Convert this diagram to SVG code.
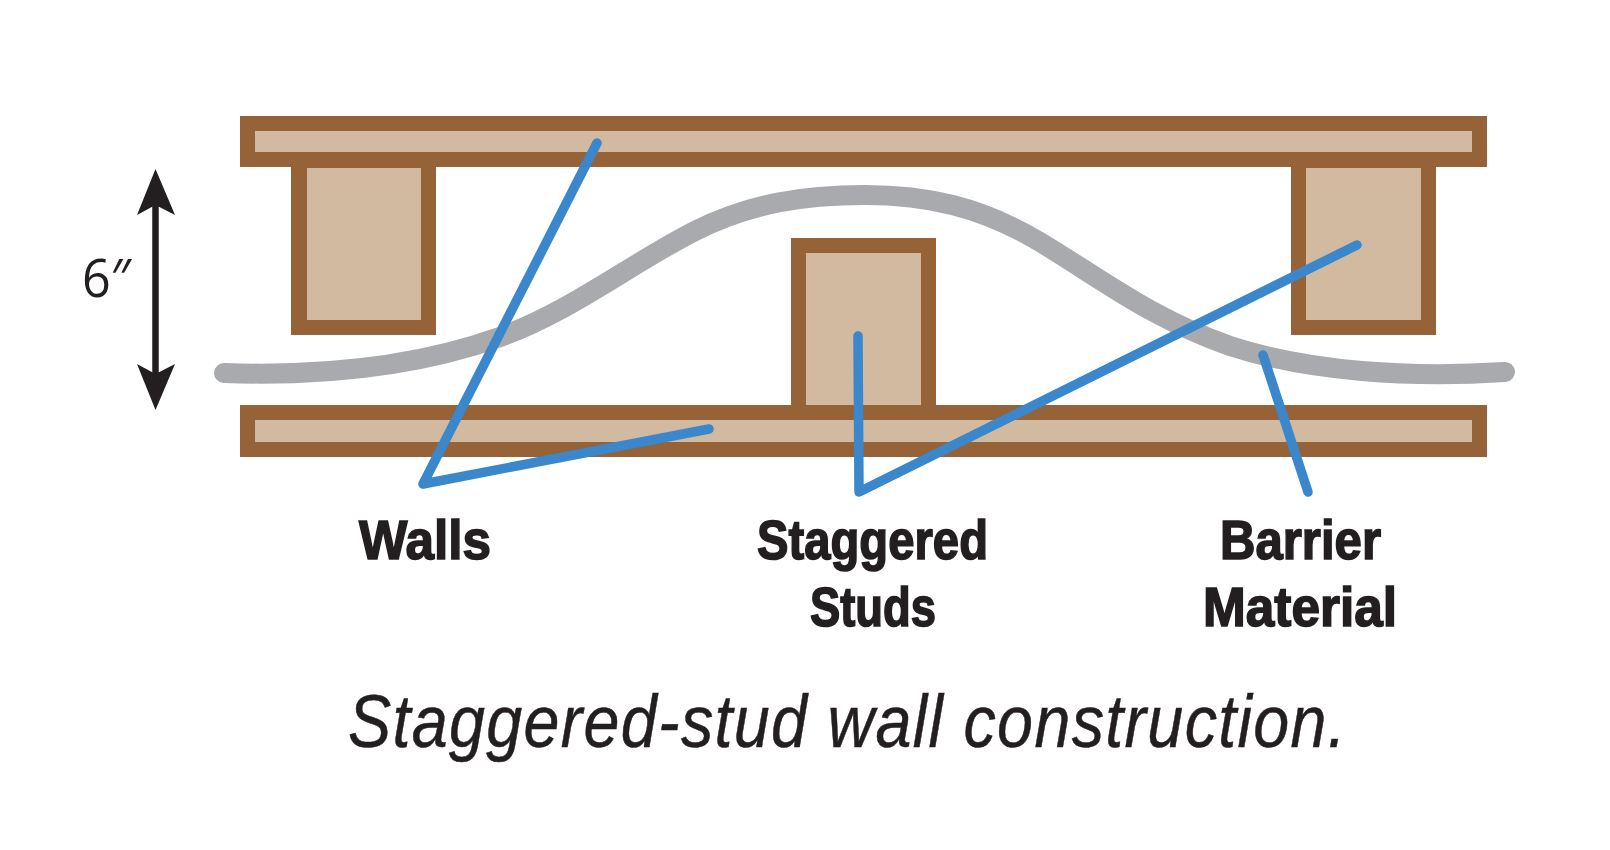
<svg xmlns="http://www.w3.org/2000/svg" width="1610" height="850" viewBox="0 0 1610 850">
<style>
.b{fill:#956337}.t{fill:#d1baa0}
.lead{fill:none;stroke:#3a87cb;stroke-width:9.500;stroke-linecap:round;stroke-linejoin:round}
.lab{font-family:"Liberation Sans",Arial,sans-serif;font-weight:700;font-size:55px;fill:#231f20;stroke:#231f20;stroke-width:1.600}
.cap{font-family:"Liberation Sans",Arial,sans-serif;font-style:italic;font-size:74px;letter-spacing:1.500px;fill:#231f20;stroke:#231f20;stroke-width:.5}
</style>
<rect width="1610" height="850" fill="#fff"/>
<g id="stud-left"><rect class="b" x="291" y="160" width="145" height="175"/><rect class="t" x="307" y="168" width="114" height="152"/></g>
<g id="stud-right"><rect class="b" x="1291" y="160" width="145" height="175"/><rect class="t" x="1306" y="168" width="115" height="152"/></g>
<g id="stud-center"><rect class="b" x="791" y="238" width="145" height="175"/><rect class="t" x="806" y="253" width="115" height="152"/></g>
<g id="plate-top"><rect class="b" x="240" y="116" width="1247" height="51"/><rect class="t" x="255" y="131" width="1217" height="21"/></g>
<g id="plate-bottom"><rect class="b" x="240" y="405" width="1247" height="52"/><rect class="t" x="255" y="420" width="1217" height="22"/></g>
<path id="barrier" d="M224 373C340 377 430 362 500 337C570 312 630 264 695 231C750 203 805 195 865 195C925 195 980 206 1040 242C1100 278 1150 318 1230 346C1310 372 1410 378 1505 372" fill="none" stroke="#a9aaad" stroke-width="20" stroke-linecap="round"/>
<g id="dimension">
<line x1="155.500" y1="200" x2="155.500" y2="380" stroke="#231f20" stroke-width="6.500"/>
<path d="M155.500 169L175 215L155.500 205L137 215Z" fill="#231f20"/>
<path d="M155.500 410L175 364L155.500 374L137 364Z" fill="#231f20"/>
<text x="82" y="297" font-family="Open Sans,sans-serif" font-weight="400" font-size="53" textLength="49" lengthAdjust="spacingAndGlyphs" fill="#231f20">6″</text>
</g>
<g id="connectors">
<path class="lead" d="M597 143L423 484L709 429"/>
<path class="lead" d="M858 336L859 492L1357 245"/>
<path class="lead" d="M1263 355L1308 492"/>
</g>
<g id="label-walls"><text class="lab" x="359" y="559" textLength="132" lengthAdjust="spacingAndGlyphs">Walls</text></g>
<g id="label-studs"><text class="lab" x="757" y="559" textLength="231" lengthAdjust="spacingAndGlyphs">Staggered</text><text class="lab" x="810" y="626" textLength="126" lengthAdjust="spacingAndGlyphs">Studs</text></g>
<g id="label-barrier"><text class="lab" x="1220" y="559" textLength="161" lengthAdjust="spacingAndGlyphs">Barrier</text><text class="lab" x="1203" y="626" textLength="194" lengthAdjust="spacingAndGlyphs">Material</text></g>
<text id="caption" class="cap" x="348" y="747" textLength="999" lengthAdjust="spacingAndGlyphs">Staggered-stud wall construction.</text>
</svg>
